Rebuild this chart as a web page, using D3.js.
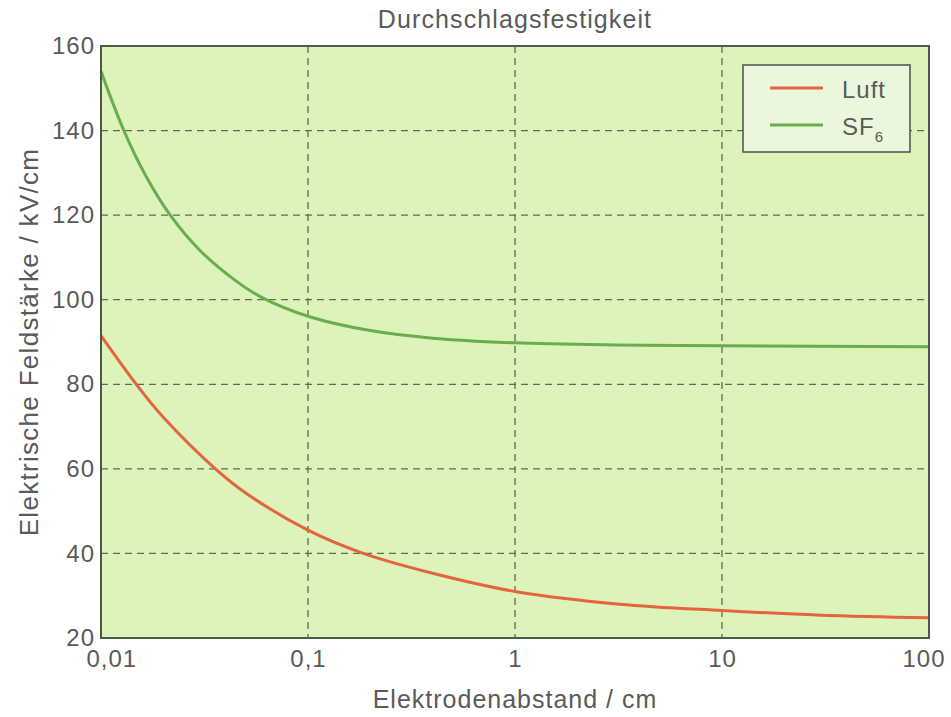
<!DOCTYPE html>
<html>
<head>
<meta charset="utf-8">
<script src="https://cdn.jsdelivr.net/npm/d3@7/dist/d3.min.js"></script>
<style>
  html, body { margin: 0; padding: 0; background: #ffffff; }
  svg { display: block; font-family: "Liberation Sans", Arial, Helvetica, sans-serif; }
</style>
</head>
<body>
<svg id="chart" width="951" height="717"></svg>
<script>
// Electrode gap in cm (log axis) and breakdown field strength in kV/cm
const luftGap   = [0.01, 0.0148, 0.02, 0.0357, 0.05, 0.1, 0.185, 0.4, 1, 3.2, 10, 30, 100];
const luftField = [91.5, 80, 72.2, 60, 54.3, 45.5, 40, 35.3, 31, 28, 26.5, 25.4, 24.8];

const sf6Gap    = [0.01, 0.0129, 0.0165, 0.0216, 0.03, 0.045, 0.06, 0.1, 0.2, 0.4, 1, 3, 10, 100];
const sf6Field  = [154, 140, 129.2, 120, 111.7, 104.4, 100.5, 96.1, 92.7, 90.9, 89.8, 89.3, 89.1, 88.9];

const xTicks = [0.01, 0.1, 1, 10, 100];
const xTickLabels = ["0,01", "0,1", "1", "10", "100"];
const yTicks = [20, 40, 60, 80, 100, 120, 140, 160];

const title = "Durchschlagsfestigkeit";
const xTitle = "Elektrodenabstand / cm";
const yTitle = "Elektrische Feldstärke / kV/cm";

const W = 951, H = 717;
const m = { left: 101, right: 22, top: 46, bottom: 79 };
const iw = W - m.left - m.right, ih = H - m.top - m.bottom;
const textColor = "#5a5a5a";

const svg = d3.select("#chart");
const g = svg.append("g").attr("transform", `translate(${m.left},${m.top})`);

const x = d3.scaleLog().domain([0.01, 100]).range([0, iw]);
const y = d3.scaleLinear().domain([20, 160]).range([ih, 0]);

// plot background
g.append("rect").attr("width", iw).attr("height", ih).attr("fill", "#dcf4ba");

// dashed grid
g.append("g").selectAll("line").data(xTicks.slice(1, -1)).join("line")
  .attr("x1", d => x(d)).attr("x2", d => x(d)).attr("y1", 0).attr("y2", ih)
  .attr("stroke", "#5e6b58").attr("stroke-width", 1.3).attr("stroke-dasharray", "7,5");
g.append("g").selectAll("line").data(yTicks.slice(1, -1)).join("line")
  .attr("y1", d => y(d)).attr("y2", d => y(d)).attr("x1", 0).attr("x2", iw)
  .attr("stroke", "#5e6b58").attr("stroke-width", 1.3).attr("stroke-dasharray", "7,5");

// curves
const line = d3.line().x(d => x(d[0])).y(d => y(d[1])).curve(d3.curveCatmullRom.alpha(0.5));
g.append("path").datum(d3.zip(sf6Gap, sf6Field)).attr("d", line)
  .attr("fill", "none").attr("stroke", "#6aac4e").attr("stroke-width", 3);
g.append("path").datum(d3.zip(luftGap, luftField)).attr("d", line)
  .attr("fill", "none").attr("stroke", "#e4643e").attr("stroke-width", 3);

// frame
g.append("rect").attr("width", iw).attr("height", ih)
  .attr("fill", "none").attr("stroke", "#4d5a4b").attr("stroke-width", 2);

// axes (tick labels only)
const xAxis = d3.axisBottom(x).tickValues(xTicks)
  .tickFormat((d, i) => xTickLabels[i]).tickSize(0).tickPadding(12);
const xg = g.append("g").attr("transform", `translate(0,${ih})`).call(xAxis);
xg.select(".domain").remove();
xg.selectAll("text").attr("font-size", 24).attr("fill", textColor)
  .attr("letter-spacing", 1)
  .attr("font-family", "Liberation Sans, Arial, sans-serif")
  .attr("text-anchor", (d, i) => i === 0 ? "start" : (i === xTicks.length - 1 ? "end" : "middle"))
  .attr("dx", (d, i) => i === 0 ? -15 : (i === xTicks.length - 1 ? 16 : 0));

const yAxis = d3.axisLeft(y).tickValues(yTicks).tickSize(0).tickPadding(6);
const yg = g.append("g").call(yAxis);
yg.select(".domain").remove();
yg.selectAll("text").attr("font-size", 24).attr("fill", textColor)
  .attr("letter-spacing", 1)
  .attr("font-family", "Liberation Sans, Arial, sans-serif");

// titles
svg.append("text").attr("x", m.left + iw / 2).attr("y", 28)
  .attr("text-anchor", "middle").attr("font-size", 25).attr("letter-spacing", 1.1)
  .attr("fill", textColor).text(title);
svg.append("text").attr("x", m.left + iw / 2).attr("y", 708)
  .attr("text-anchor", "middle").attr("font-size", 25).attr("letter-spacing", 1)
  .attr("fill", textColor).text(xTitle);
svg.append("text").attr("transform", `translate(38,${m.top + ih / 2}) rotate(-90)`)
  .attr("text-anchor", "middle").attr("font-size", 26).attr("letter-spacing", 1.3)
  .attr("fill", textColor).text(yTitle);

// legend
const lg = svg.append("g").attr("transform", "translate(743,65)");
lg.append("rect").attr("width", 167).attr("height", 87)
  .attr("fill", "#eaf7dd").attr("stroke", "#4d4d4d").attr("stroke-width", 1.5);
const items = [
  { label: "Luft", color: "#e4643e", sub: null },
  { label: "SF", color: "#6aac4e", sub: "6" }
];
items.forEach((it, i) => {
  const cy = 23 + i * 37;
  lg.append("line").attr("x1", 27).attr("x2", 80).attr("y1", cy).attr("y2", cy)
    .attr("stroke", it.color).attr("stroke-width", 3);
  const t = lg.append("text").attr("x", 99).attr("y", cy + 10)
    .attr("font-size", 24).attr("letter-spacing", 1).attr("fill", textColor).text(it.label);
  if (it.sub) t.append("tspan").attr("font-size", 15).attr("dy", 7).text(it.sub);
});
</script>
</body>
</html>
